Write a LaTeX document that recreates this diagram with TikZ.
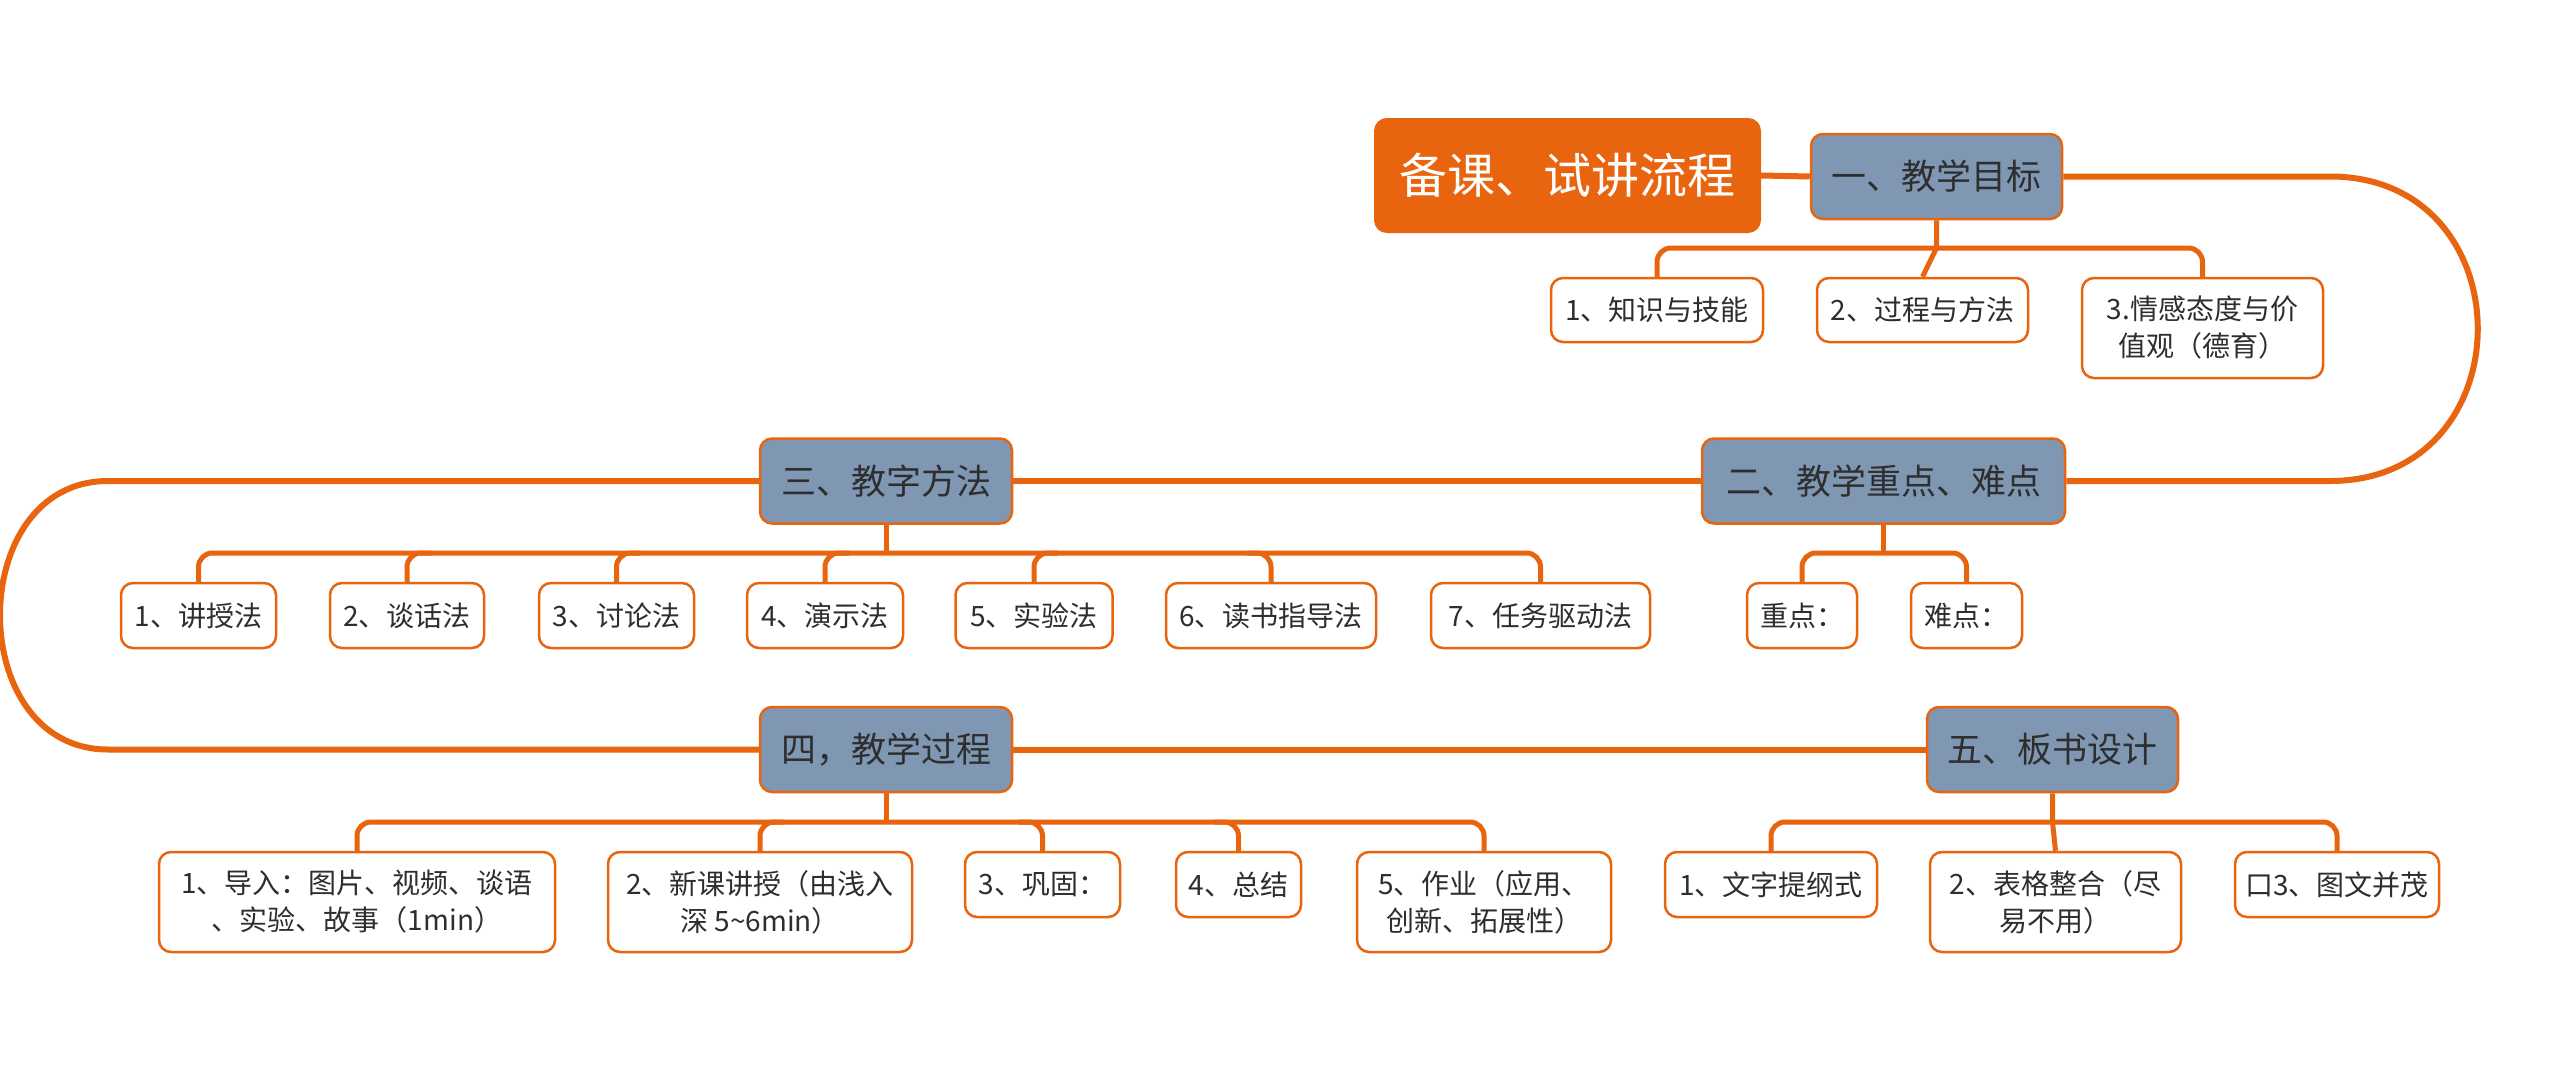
\documentclass[tikz,border=0pt]{standalone}
\usepackage{fontspec}
\setmainfont{Noto Sans CJK SC}
\usetikzlibrary{backgrounds}
\definecolor{orn}{HTML}{E8640F}
\definecolor{blu}{HTML}{7F97B3}
\definecolor{txt}{HTML}{2E2E2E}
\begin{document}
\begin{tikzpicture}[x=1pt,y=-1pt,
  trunk/.style={draw=orn, line width=6pt},
  branch/.style={draw=orn, line width=5pt, rounded corners=14pt},
  stem/.style={draw=orn, line width=5pt},
  rootbox/.style={fill=orn, draw=orn, line width=2pt, rounded corners=12pt, text=white,
    font=\fontsize{48}{56}\selectfont, inner sep=0pt, minimum width=385pt, minimum height=113pt},
  topic/.style={draw=orn, line width=2.5pt, fill=blu, rounded corners=12pt, text=txt,
    font=\fontsize{35}{42}\selectfont, inner sep=0pt, minimum height=85pt},
  leaf/.style={draw=orn, line width=2.5pt, fill=white, rounded corners=12pt, text=txt,
    font=\fontsize{28}{37}\selectfont, align=center, inner sep=0pt}]
\useasboundingbox (0,0) rectangle (2560,1073);

% main topics
\node[rootbox] (root) at (1567.5,175.5) {备课、试讲流程};
\node[topic, minimum width=251pt] (t1) at (1936.5,176.5) {一、教学目标};
\node[topic, minimum width=363pt] (t2) at (1883.5,481) {二、教学重点、难点};
\node[topic, minimum width=252pt] (t3) at (886,481) {三、教字方法};
\node[topic, minimum width=252pt] (t4) at (886,749.5) {四，教学过程};
\node[topic, minimum width=251pt] (t5) at (2052.5,749.5) {五、板书设计};

% leaves of 一
\node[leaf, minimum width=212pt, minimum height=64pt] (a1) at (1657,310) {1、知识与技能};
\node[leaf, minimum width=211pt, minimum height=64pt] (a2) at (1922.5,310) {2、过程与方法};
\node[leaf, minimum width=241pt, minimum height=100pt] (a3) at (2202.5,328) {3.情感态度与价\\值观（德育）};

% leaves of 二
\node[leaf, minimum width=110pt, minimum height=65pt] (b1) at (1802,615.5) {重点：};
\node[leaf, minimum width=111pt, minimum height=65pt] (b2) at (1966.5,615.5) {难点：};

% leaves of 三
\node[leaf, minimum width=155pt, minimum height=65pt] (c1) at (198.5,615.5) {1、讲授法};
\node[leaf, minimum width=154pt, minimum height=65pt] (c2) at (407,615.5) {2、谈话法};
\node[leaf, minimum width=155pt, minimum height=65pt] (c3) at (616.5,615.5) {3、讨论法};
\node[leaf, minimum width=156pt, minimum height=65pt] (c4) at (825,615.5) {4、演示法};
\node[leaf, minimum width=157pt, minimum height=65pt] (c5) at (1034,615.5) {5、实验法};
\node[leaf, minimum width=210pt, minimum height=65pt] (c6) at (1271,615.5) {6、读书指导法};
\node[leaf, minimum width=219pt, minimum height=65pt] (c7) at (1540.5,615.5) {7、任务驱动法};

% leaves of 四
\node[leaf, minimum width=396pt, minimum height=100pt] (d1) at (357,902) {1、导入：图片、视频、谈语\\、实验、故事（1min）};
\node[leaf, minimum width=304pt, minimum height=100pt] (d2) at (760,902) {2、新课讲授（由浅入\\深 5\textasciitilde6min）};
\node[leaf, minimum width=155pt, minimum height=65pt] (d3) at (1042.5,884.5) {3、巩固：};
\node[leaf, minimum width=125pt, minimum height=65pt] (d4) at (1238.5,884.5) {4、总结};
\node[leaf, minimum width=254pt, minimum height=100pt] (d5) at (1484,902) {5、作业（应用、\\创新、拓展性）};

% leaves of 五
\node[leaf, minimum width=212pt, minimum height=65pt] (e1) at (1771,884.5) {1、文字提纲式};
\node[leaf, minimum width=251pt, minimum height=100pt] (e2) at (2055.5,902) {2、表格整合（尽\\易不用）};
\node[leaf, minimum width=204pt, minimum height=65pt] (e3) at (2337,884.5) {口3、图文并茂};

% helper coordinates
\coordinate (ya) at (0,248);
\coordinate (yb) at (0,553);
\coordinate (yc) at (0,822);
\coordinate (R1) at (2330,176.5);
\coordinate (R2) at (2330,481);
\coordinate (L1) at (108,481);
\coordinate (L2) at (108,749.5);

\begin{scope}[on background layer]
\fill[white] (0,0) rectangle (2560,1073);
% trunk
\draw[trunk] (root.east) -- (t1.west);
\draw[trunk] (t1.east) -- (R1) .. controls (2527,176.5) and (2527,481) .. (R2) -- (t2.east);
\draw[trunk] (t2.west) -- (t3.east);
\draw[trunk] (t3.west) -- (L1) .. controls (-36,481) and (-36,749.5) .. (L2) -- (t4.west);
\draw[trunk] (t4.east) -- (t5.west);

% branches of 一
\draw[branch] (a1.north) -- (a1.north |- ya) -- (a3.north |- ya) -- (a3.north);
\draw[stem] (t1.south) -- (t1.south |- ya) -- (a2.north);

% branches of 二
\draw[branch] (b1.north) -- (b1.north |- yb) -- (b2.north |- yb) -- (b2.north);
\draw[stem] (t2.south) -- (t2.south |- yb);

% branches of 三
\draw[branch] (c1.north) -- (c1.north |- yb) -- (c7.north |- yb) -- (c7.north);
\draw[stem] (t3.south) -- (t3.south |- yb);
\draw[branch] (c2.north) -- (c2.north |- yb) -- ++(24,0);
\draw[branch] (c3.north) -- (c3.north |- yb) -- ++(24,0);
\draw[branch] (c4.north) -- (c4.north |- yb) -- ++(24,0);
\draw[branch] (c5.north) -- (c5.north |- yb) -- ++(24,0);
\draw[branch] (c6.north) -- (c6.north |- yb) -- ++(-24,0);

% branches of 四
\draw[branch] (d1.north) -- (d1.north |- yc) -- (d5.north |- yc) -- (d5.north);
\draw[stem] (t4.south) -- (t4.south |- yc);
\draw[branch] (d2.north) -- (d2.north |- yc) -- ++(24,0);
\draw[branch] (d3.north) -- (d3.north |- yc) -- ++(-24,0);
\draw[branch] (d4.north) -- (d4.north |- yc) -- ++(-24,0);

% branches of 五
\draw[branch] (e1.north) -- (e1.north |- yc) -- (e3.north |- yc) -- (e3.north);
\draw[stem] (t5.south) -- (t5.south |- yc) -- (e2.north);
\end{scope}
\end{tikzpicture}
\end{document}
